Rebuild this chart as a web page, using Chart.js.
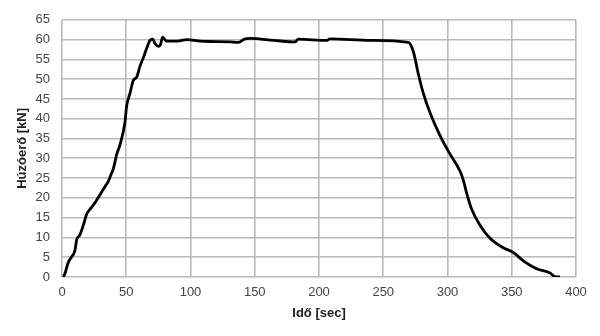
<!DOCTYPE html>
<html>
<head>
<meta charset="utf-8">
<script src="https://cdn.jsdelivr.net/npm/chart.js@4.4.1/dist/chart.umd.min.js"></script>
<style>
html,body{margin:0;padding:0;background:#fff;}
#wrap{width:600px;height:336px;position:relative;}
</style>
</head>
<body>
<div id="wrap"><canvas id="c" width="600" height="336"></canvas></div>
<script>
const timeSec = [1, 2.3, 4.9, 7.5, 10, 11.4, 14, 16.6, 19.2, 21.8, 25.7, 29.6, 33.5, 36, 37.4, 39.9, 42.6, 45.1, 49, 50.3, 52.9, 55.5, 58.1, 60.7, 63.3, 65.9, 68.5, 70.6, 72.4, 74.9, 76.5, 78.3, 81.5, 91.8, 97, 107.4, 120, 130.7, 137.2, 142.4, 146.3, 165, 181.3, 183.9, 206, 208.6, 240, 269.5, 273.4, 277.3, 281.2, 286.4, 292.8, 300.6, 309.7, 312.3, 314.9, 318.8, 325.3, 333.1, 343.4, 351.2, 359, 369.4, 379.8, 383.7, 387.5];
const forceKN = [0, 0.9, 3.7, 5.1, 6.6, 9.4, 10.7, 13.1, 15.9, 17.1, 18.8, 20.8, 22.9, 24.1, 25.3, 27.3, 31, 33.4, 39.1, 43.2, 46.4, 49.7, 50.5, 53.3, 55.4, 57.8, 59.8, 60.1, 59, 58.3, 58.6, 60.6, 59.6, 59.7, 60, 59.6, 59.5, 59.4, 59.3, 60.2, 60.3, 59.8, 59.4, 60.1, 59.8, 60.2, 59.8, 59.3, 57, 51.3, 46.4, 41.5, 36.7, 31.8, 26.8, 24.5, 21.2, 17.1, 13.1, 9.8, 7.4, 6.2, 4.1, 2.1, 1, 0.1, 0];
const xTitle = 'Idő [sec]';
const yTitle = 'Húzóerő [kN]';

const points = timeSec.map((t, i) => ({x: t, y: forceKN[i]}));
const gridColor = '#bababa';
const tickFont = {family: 'Liberation Sans, Arial, sans-serif', size: 13};
const titleFont = {family: 'Liberation Sans, Arial, sans-serif', size: 13, weight: 'bold'};

new Chart(document.getElementById('c'), {
  type: 'scatter',
  data: {
    datasets: [{
      data: points,
      showLine: true,
      borderColor: '#000',
      borderWidth: 2.8,
      pointRadius: 0,
      cubicInterpolationMode: 'monotone',
      fill: false
    }]
  },
  options: {
    responsive: false,
    animation: false,
    events: [],
    layout: {padding: {left: 0, right: 24, top: 10, bottom: 0}},
    plugins: {legend: {display: false}, tooltip: {enabled: false}},
    scales: {
      x: {
        type: 'linear', min: 0, max: 400,
        border: {display: false},
        grid: {color: gridColor, lineWidth: 1.6, drawTicks: false},
        ticks: {stepSize: 50, font: tickFont, color: '#444', padding: 8, maxRotation: 0},
        title: {display: true, text: xTitle, font: titleFont, color: '#222', padding: {top: 0, bottom: 15}},
        afterFit: s => { s.height = 59; }
      },
      y: {
        type: 'linear', min: 0, max: 65,
        border: {display: false},
        grid: {color: gridColor, lineWidth: 1.6, drawTicks: false},
        ticks: {stepSize: 5, font: tickFont, color: '#444', padding: 12},
        title: {display: true, text: yTitle, font: titleFont, color: '#222', padding: {top: 15, bottom: 0}},
        afterFit: s => { s.width = 62; }
      }
    }
  }
});
</script>
</body>
</html>
